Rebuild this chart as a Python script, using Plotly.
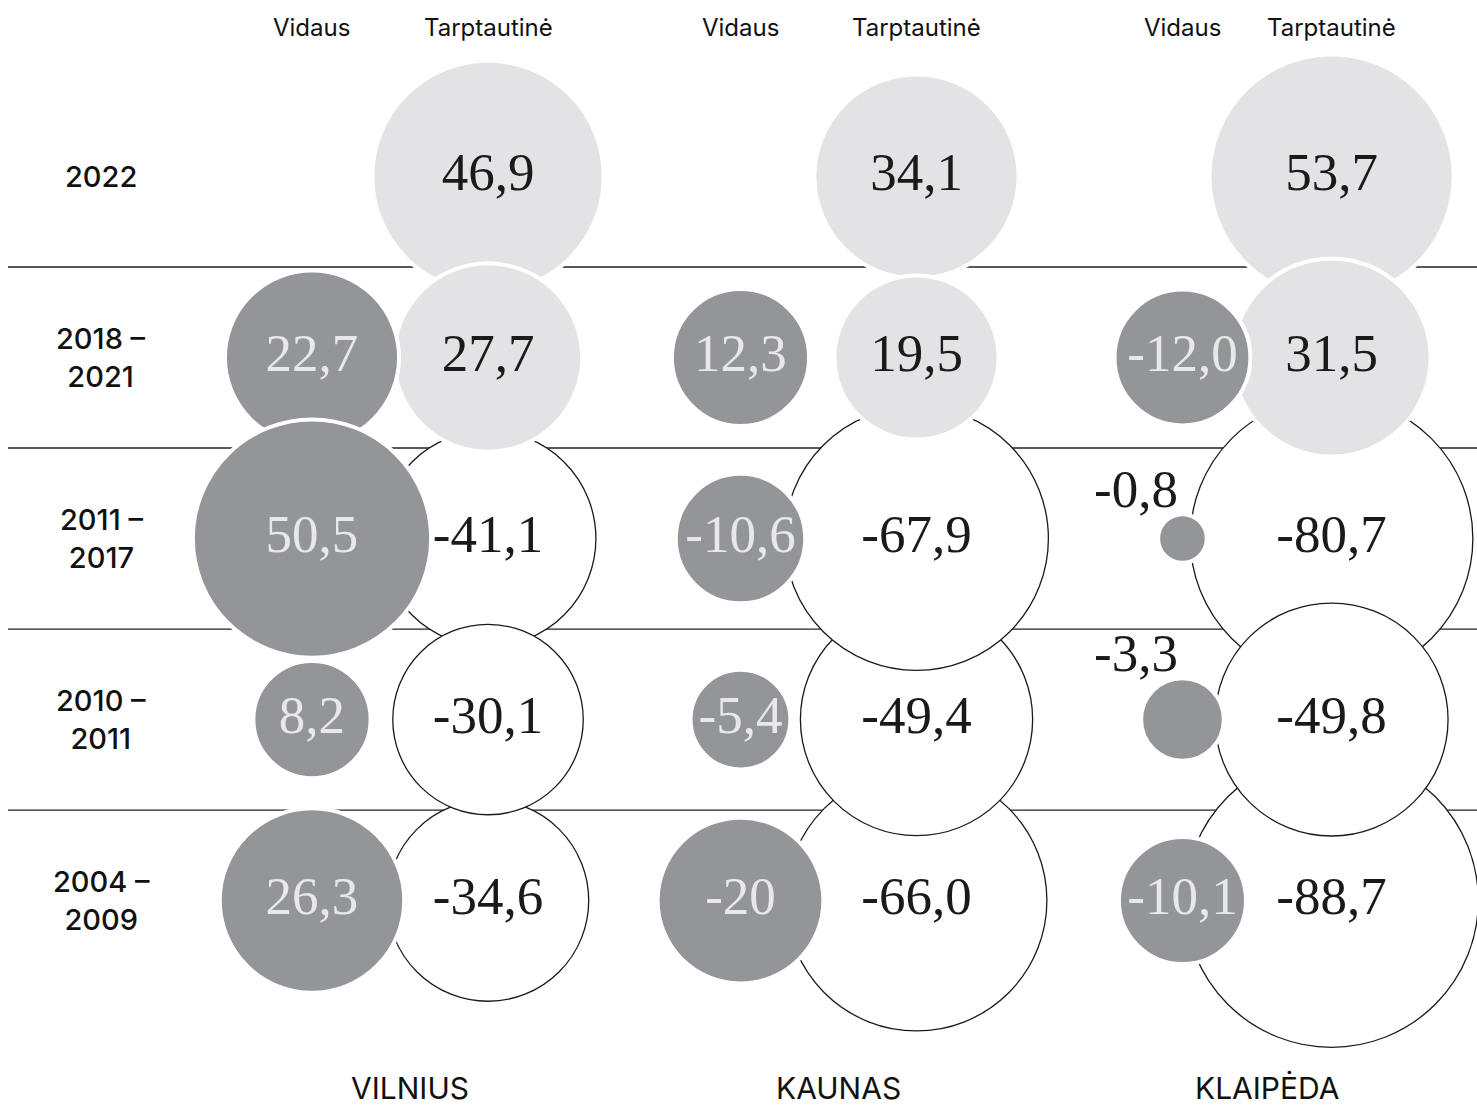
import plotly.graph_objects as go

# ---------------- data ----------------
periods = ["2022", "2018 –<br>2021", "2011 –<br>2017", "2010 –<br>2011", "2004 –<br>2009"]
cities = ["VILNIUS", "KAUNAS", "KLAIPĖDA"]
series_names = ["Vidaus", "Tarptautinė"]

vilnius_vidaus = [None, 22.7, 50.5, 8.2, 26.3]
vilnius_tarpt = [46.9, 27.7, -41.1, -30.1, -34.6]
kaunas_vidaus = [None, 12.3, -10.6, -5.4, -20]
kaunas_tarpt = [34.1, 19.5, -67.9, -49.4, -66.0]
klaipeda_vidaus = [None, -12.0, -0.8, -3.3, -10.1]
klaipeda_tarpt = [53.7, 31.5, -80.7, -49.8, -88.7]

vidaus = [vilnius_vidaus, kaunas_vidaus, klaipeda_vidaus]
tarpt = [vilnius_tarpt, kaunas_tarpt, klaipeda_tarpt]

# ---------------- layout / style constants ----------------
W, H = 1477, 1106
X_RANGE = [-0.9335, 2.5134]          # city index axis
Y_RANGE = [5.135, -0.975]            # period index axis (reversed)
PAIR_OFFSET = [0.2054, 0.2054, 0.174]  # half distance between the two columns of a city
WHITE_ORDER = [[2, 4, 3], [4, 3, 2], [2, 4, 3]]  # stacking of outlined circles, bottom -> top
K, P = 24.4, 0.40                    # bubble diameter scale
MIN_INSIDE = 85                      # bubbles smaller than this get the label outside

GRAY = "#939598"
LIGHT = "#e3e2e4"
INK = "#1a1a1a"
GRAY_TEXT = "#e8e8e8"
SERIF = "Liberation Serif"
SANS = "Inter"
VALUE_SIZE = 53
BORDER = 4


def diameter(v):
    return 2 * K * abs(v) ** P


def label(v):
    s = f"{v}" if isinstance(v, int) else f"{v:.1f}"
    return s.replace(".", ",")


def col_x(c, s):
    return c + (PAIR_OFFSET[c] if s == 1 else -PAIR_OFFSET[c])


fig = go.Figure()

# outlined (negative international) circles
wx, wy, ws = [], [], []
for c in range(len(cities)):
    for r in WHITE_ORDER[c]:
        v = tarpt[c][r]
        if v is not None and v < 0:
            wx.append(col_x(c, 1)); wy.append(r); ws.append(diameter(v))
fig.add_trace(go.Scatter(x=wx, y=wy, mode="markers", hoverinfo="skip",
                         marker=dict(size=ws, sizemode="diameter", color="white", opacity=1,
                                     line=dict(color=INK, width=1.3))))

# light gray (positive international) circles
lx, ly, ls = [], [], []
for r in range(len(periods)):
    for c in range(len(cities)):
        v = tarpt[c][r]
        if v is not None and v >= 0:
            lx.append(col_x(c, 1)); ly.append(r); ls.append(diameter(v) + BORDER)
fig.add_trace(go.Scatter(x=lx, y=ly, mode="markers", hoverinfo="skip",
                         marker=dict(size=ls, sizemode="diameter", color=LIGHT, opacity=1,
                                     line=dict(color="white", width=BORDER))))

# dark gray (domestic) circles
gx, gy, gs = [], [], []
for r in range(len(periods)):
    for c in range(len(cities)):
        v = vidaus[c][r]
        if v is not None:
            gx.append(col_x(c, 0)); gy.append(r); gs.append(diameter(v) + BORDER)
fig.add_trace(go.Scatter(x=gx, y=gy, mode="markers", hoverinfo="skip",
                         marker=dict(size=gs, sizemode="diameter", color=GRAY, opacity=1,
                                     line=dict(color="white", width=BORDER))))

annotations = []

# value labels inside bubbles (text trace on top), small bubbles labelled outside
tx, ty, tt, tcol = [], [], [], []
for c in range(len(cities)):
    for s, data in enumerate([vidaus[c], tarpt[c]]):
        for r, v in enumerate(data):
            if v is None:
                continue
            d = diameter(v)
            if d >= MIN_INSIDE:
                tx.append(col_x(c, s)); ty.append(r); tt.append(label(v))
                tcol.append(GRAY_TEXT if s == 0 else INK)
            else:
                annotations.append(dict(x=col_x(c, s), xref="x", y=r, yref="y",
                                        xshift=-2, yshift=d / 2 - 4,
                                        text=label(v), showarrow=False,
                                        xanchor="right", yanchor="bottom",
                                        font=dict(family=SERIF, size=VALUE_SIZE, color=INK)))
fig.add_trace(go.Scatter(x=tx, y=ty, mode="text", text=tt, textposition="middle center",
                         hoverinfo="skip",
                         textfont=dict(family=SERIF, size=VALUE_SIZE, color=tcol)))

# row separators
shapes = []
for r in range(len(periods) - 1):
    shapes.append(dict(type="line", xref="paper", yref="y", x0=8 / W, x1=1,
                       y0=r + 0.5, y1=r + 0.5, layer="below",
                       line=dict(color="#222222", width=1.3)))

# column headers
for c in range(len(cities)):
    for s, name in enumerate(series_names):
        annotations.append(dict(x=col_x(c, s), xref="x", y=1 - 27 / H, yref="paper",
                                text=name, showarrow=False, xanchor="center", yanchor="middle",
                                font=dict(family=SANS, size=24, color="#111111")))
# period labels
for r, p in enumerate(periods):
    annotations.append(dict(x=101 / W, xref="paper", y=r, yref="y",
                            text=p, showarrow=False, xanchor="center", yanchor="middle",
                            align="center",
                            font=dict(family=SANS, size=29, color="#111111", weight=500)))
# city labels
for c, name in enumerate(cities):
    annotations.append(dict(x=c, xref="x", xshift=10, y=1 - 1088 / H, yref="paper",
                            text=name, showarrow=False, xanchor="center", yanchor="middle",
                            font=dict(family=SANS, size=30, color="#111111")))

fig.update_layout(
    width=W, height=H, autosize=False,
    margin=dict(l=0, r=0, t=0, b=0, pad=0),
    paper_bgcolor="white", plot_bgcolor="white",
    showlegend=False,
    xaxis=dict(range=X_RANGE, visible=False, fixedrange=True),
    yaxis=dict(range=Y_RANGE, visible=False, fixedrange=True),
    shapes=shapes, annotations=annotations,
)

fig.write_html("out.html", config={"displayModeBar": False},
               post_script="document.body.style.margin='0px';document.body.style.overflow='hidden';")
